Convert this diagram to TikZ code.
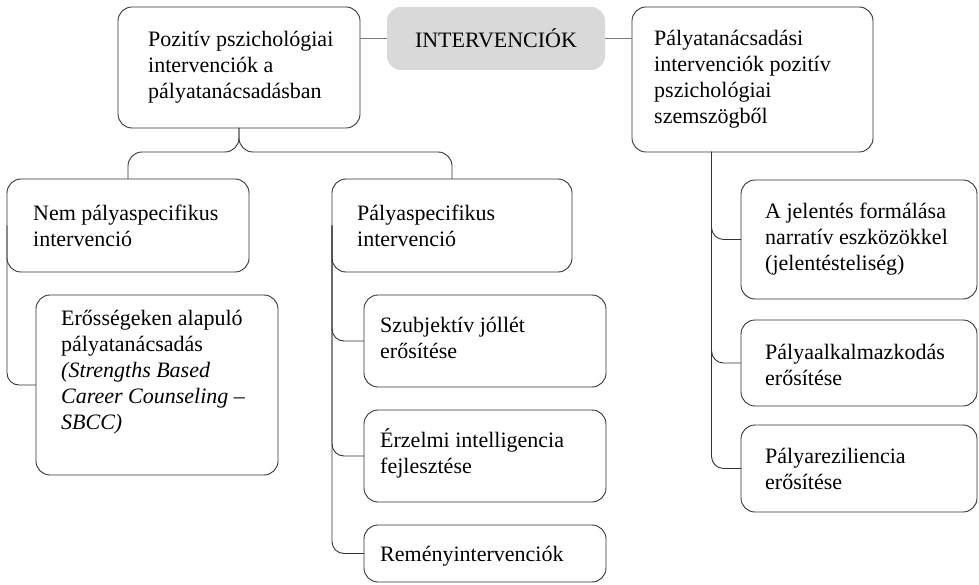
\documentclass[tikz,border=0pt]{standalone}
\usepackage{fontspec}
\setmainfont{Liberation Serif}
\usetikzlibrary{calc}
\definecolor{boxgray}{HTML}{D9D9D9}
\definecolor{linecol}{HTML}{333333}
\definecolor{topline}{HTML}{7A7A7A}
\newcommand\mkbox[6][box]{%
  \node[#1, minimum width={(#5-#3)*1pt}, minimum height={(#6-#4)*1pt}] (#2) at ({(#3+#5)/2},{(#4+#6)/2}) {};}
\begin{document}
\begin{tikzpicture}[x=1pt,y=-1pt,
  box/.style={draw=linecol, line width=0.9pt, rounded corners=14pt, fill=white, inner sep=0pt, outer sep=0pt},
  gbox/.style={fill=boxgray, rounded corners=14pt, inner sep=0pt, outer sep=0pt},
  txt/.style={font=\fontsize{22}{26}\selectfont, align=left, inner sep=0pt, anchor=west},
  conn/.style={draw=linecol, line width=0.9pt, rounded corners=12pt},
  tconn/.style={draw=topline, line width=1pt}]
\useasboundingbox (0,0) rectangle (979,585);
% boxes
\mkbox{p1}{118}{7}{360}{128}
\mkbox[gbox]{g}{387}{7}{605}{70}
\mkbox{p2}{632}{7}{873}{152}
\mkbox{n1}{7}{179}{249}{272}
\mkbox{n2}{332}{179}{572}{272}
\mkbox{e}{36}{295}{278}{475}
\mkbox{s1}{364}{295}{606}{387}
\mkbox{s2}{364}{410}{606}{502}
\mkbox{s3}{364}{525}{606}{582}
\mkbox{r1}{741}{180}{977}{299}
\mkbox{r2}{741}{320}{977}{406}
\mkbox{r3}{741}{425}{977}{512}
% connectors
\draw[tconn] (p1.east |- g.west) -- (g.west);
\draw[tconn] (g.east) -- (g.east -| p2.west);
\draw[conn, rounded corners=14pt] (p1.south) -- ++(0,24) -| (n1.north);
\draw[conn, rounded corners=14pt] (p1.south) -- ++(0,24) -| (n2.north);
\draw[conn] (n1.west) |- (e.west);
\draw[conn] (n2.west) |- (s1.west);
\draw[conn] (n2.west) |- (s2.west);
\draw[conn] (n2.west) |- (s3.west);
\coordinate (p2b) at ($(p2.south west)!0.33!(p2.south east)$);
\draw[conn] (p2b) |- (r1.west);
\draw[conn] (p2b) |- (r2.west);
\draw[conn] (p2b) |- (r3.west);
% texts
\node[txt] (p1t) at ($(p1.west)+(30,0)$) {Pozitív pszichológiai\\intervenciók a\\pályatanácsadásban};
\node[txt, anchor=center] (gt) at (g.center) {INTERVENCIÓK};
\node[txt] (p2t) at ($(p2.west)+(22,0)$) {Pályatanácsadási\\intervenciók pozitív\\pszichológiai\\szemszögből};
\node[txt] (n1t) at ($(n1.west)+(26,0)$) {Nem pályaspecifikus\\intervenció};
\node[txt] (n2t) at ($(n2.west)+(25,0)$) {Pályaspecifikus\\intervenció};
\node[txt] (et) at ($(e.west)+(25,-13)$) {Erősségeken alapuló\\pályatanácsadás\\\textit{(Strengths Based}\\\textit{Career Counseling –}\\\textit{SBCC)}};
\node[txt] (s1t) at ($(s1.west)+(16,-3)$) {Szubjektív jóllét\\erősítése};
\node[txt] (s2t) at ($(s2.west)+(16,-3)$) {Érzelmi intelligencia\\fejlesztése};
\node[txt] (s3t) at ($(s3.west)+(16,3)$) {Reményintervenciók};
\node[txt] (r1t) at ($(r1.west)+(24,0)$) {A jelentés formálása\\narratív eszközökkel\\(jelentésteliség)};
\node[txt] (r2t) at ($(r2.west)+(24,2)$) {Pályaalkalmazkodás\\erősítése};
\node[txt] (r3t) at ($(r3.west)+(24,0)$) {Pályareziliencia\\erősítése};
\end{tikzpicture}
\end{document}
